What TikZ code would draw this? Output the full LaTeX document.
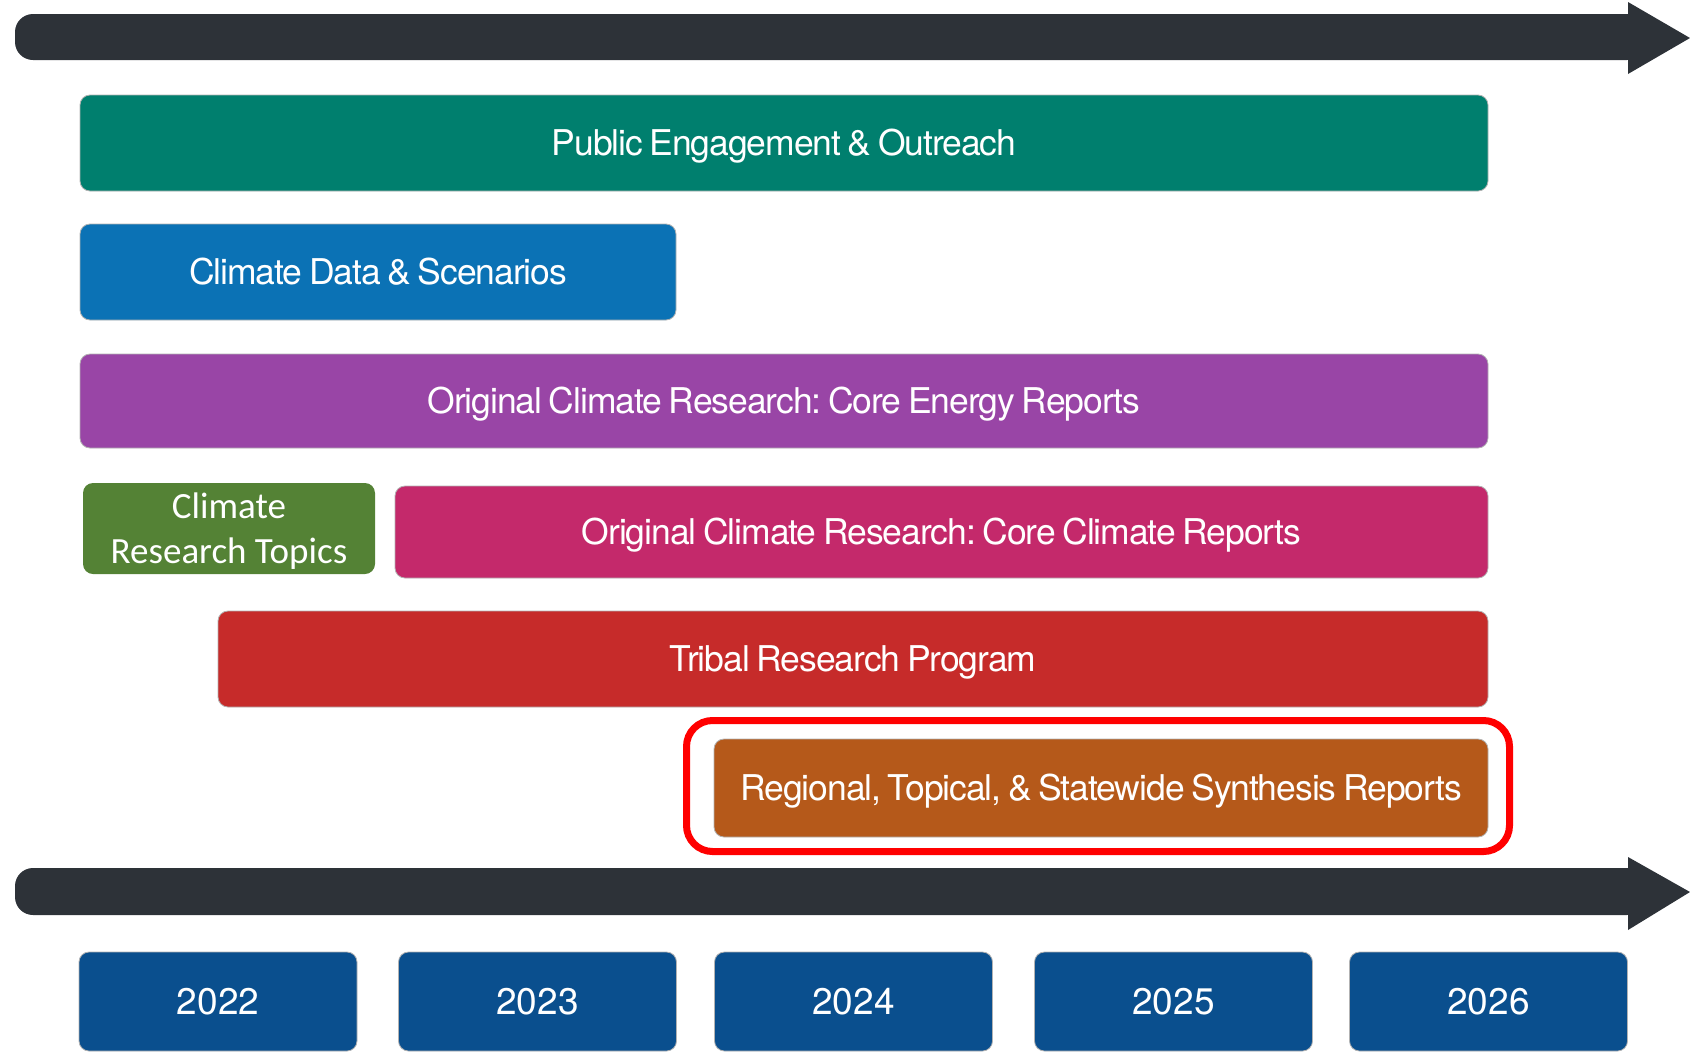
\documentclass[tikz,border=0pt]{standalone}
\usepackage{fontspec}
\setmainfont{TeX Gyre Heros}
\newfontfamily\calibri{Carlito}
\newfontfamily\tightfont[LetterSpace=-3.0,WordSpace=0.75]{TeX Gyre Heros}
\frenchspacing
\definecolor{arrowc}{HTML}{2D3238}
\definecolor{tealc}{HTML}{007F6E}
\definecolor{bluec}{HTML}{0B72B5}
\definecolor{purplec}{HTML}{9945A6}
\definecolor{greenc}{HTML}{548235}
\definecolor{magentac}{HTML}{C4296B}
\definecolor{redc}{HTML}{C62B2A}
\definecolor{orangec}{HTML}{B5591A}
\definecolor{yearc}{HTML}{0A4F8E}
\definecolor{hilite}{HTML}{FF0000}
\tikzset{
  bar/.style={rounded corners=10pt, draw=black!30, line width=0.8pt, text=white,
    inner sep=0pt, font=\tightfont\frenchspacing\fontsize{35.5}{40}\selectfont, anchor=center,
    text height=25.5pt, text depth=0pt},
  yearbox/.style={bar, fill=yearc, minimum width=278pt, minimum height=99pt,
    font=\fontsize{37}{40}\selectfont, text height=26.5pt},
  timeline/.style={fill=arrowc},
}
\begin{document}
\begin{tikzpicture}[x=1pt,y=-1pt]
\useasboundingbox (0,0) rectangle (1690,1053);
% top timeline arrow
\fill[timeline, rounded corners=18pt] (15,14) rectangle (1645,60);
\fill[timeline] (1628,2) -- (1690,38) -- (1628,74) -- cycle;
% bars
\node[bar, fill=tealc, minimum width=1408pt, minimum height=96pt] (pe) at (784,143) {Public Engagement \& Outreach};
\node[bar, fill=bluec, minimum width=596pt, minimum height=96pt] (cd) at (378,272) {Climate Data \& Scenarios};
\node[bar, fill=purplec, minimum width=1408pt, minimum height=94pt] (ce) at (784,401) {Original Climate Research: Core Energy Reports};
\node[bar, draw=none, fill=greenc, minimum width=292pt, minimum height=91pt] (crt) at (229,528.5) {};
\node[text=white, inner sep=0pt, align=center, font=\calibri\fontsize{37}{45.5}\selectfont]
  (crtlabel) at ([yshift=-2.5pt]crt.center) {Climate\\Research Topics};
\node[bar, fill=magentac, minimum width=1093pt, minimum height=92pt] (cc) at (941.5,532) {Original Climate Research: Core Climate Reports};
\node[bar, fill=redc, minimum width=1270pt, minimum height=96pt] (tr) at (853,659) {Tribal Research Program};
\node[bar, fill=orangec, minimum width=774pt, minimum height=98pt] (sy) at (1101,788) {Regional, Topical, \& Statewide Synthesis Reports};
% highlight outline
\draw[hilite, line width=7pt, rounded corners=26pt] (686.5,720.5) rectangle (1509.5,851.5);
% bottom timeline arrow
\fill[timeline, rounded corners=18pt] (15,868) rectangle (1645,915);
\fill[timeline] (1628,857) -- (1690,892) -- (1628,930) -- cycle;
% years
\node[yearbox] (y22) at (218,1001.5) {2022};
\node[yearbox] (y23) at (537.5,1001.5) {2023};
\node[yearbox] (y24) at (853.5,1001.5) {2024};
\node[yearbox] (y25) at (1173.5,1001.5) {2025};
\node[yearbox] (y26) at (1488.5,1001.5) {2026};
\end{tikzpicture}
\end{document}
